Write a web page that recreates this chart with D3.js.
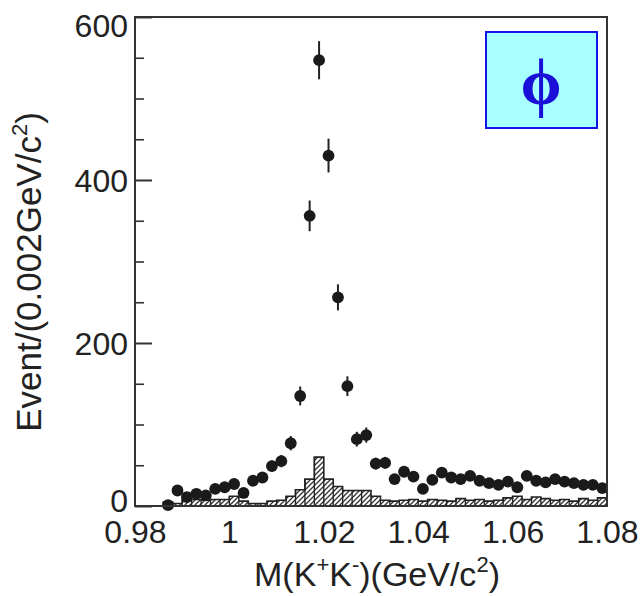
<!DOCTYPE html>
<html>
<head>
<meta charset="utf-8">
<script src="https://cdn.jsdelivr.net/npm/d3@7/dist/d3.min.js"></script>
<style>
  html, body { margin: 0; padding: 0; background: #fff; }
  svg { display: block; }
</style>
</head>
<body>
<svg id="chart" width="643" height="596"></svg>
<script>
// ---------- data ----------
const binStart = 0.98;
const binWidth = 0.002;
// data point counts per bin (bin centres 0.981, 0.983, ...); null = no point
const dataCounts = [null, null, null, 1, 19, 11, 15, 13, 21, 23,
                    27, 16, 31, 35, 49, 55, 77, 135, 356, 547,
                    430, 256, 147, 82, 87, 52, 53, 33, 42, 36,
                    21, 32, 41, 35, 33, 37, 31, 28, 26, 30,
                    23, 37, 31, 29, 33, 30, 28, 26, 26, 22];
// hatched background histogram counts per bin
const bkgCounts = [0, 0, 0, 5, 3, 8, 8, 7, 8, 8,
                   12, 6, 3, 3, 6, 7, 12, 20, 33, 60,
                   33, 24, 19, 19, 19, 12, 7, 6, 7, 8,
                   6, 8, 7, 6, 9, 7, 8, 6, 7, 10,
                   12, 8, 11, 9, 7, 8, 6, 9, 7, 10];
const xTicks = [0.98, 1.00, 1.02, 1.04, 1.06, 1.08];
const yMajorTicks = [0, 200, 400, 600];
const yMinorTicks = [50, 100, 150, 250, 300, 350, 450, 500, 550];
const xTitle = ["M(K", "+", "K", "-", ")(GeV/c", "2", ")"];
const yTitle = ["Event/(0.002GeV/c", "2", ")"];
const legendLabel = "\u03D5";

// ---------- layout ----------
const svg = d3.select("#chart");
const L = 135, R = 607, T = 17, B = 506;
const x = d3.scaleLinear().domain([0.98, 1.08]).range([L, R]);
const y = d3.scaleLinear().domain([0, 600]).range([B, T]);
const ink = "#222";
const font = "'Liberation Sans', Arial, Helvetica, sans-serif";

// hatch pattern
const defs = svg.append("defs");
const pat = defs.append("pattern")
  .attr("id", "hatch").attr("patternUnits", "userSpaceOnUse")
  .attr("width", 5).attr("height", 5);
pat.append("rect").attr("width", 5).attr("height", 5).attr("fill", "#fff");
pat.append("path").attr("d", "M0,5 L5,0 M-1,1 L1,-1 M4,6 L6,4")
  .attr("stroke", "#333").attr("stroke-width", 1.3);
defs.append("clipPath").attr("id", "plotclip")
  .append("rect").attr("x", L).attr("y", T - 2).attr("width", R - L).attr("height", B - T + 12);

// ---------- background histogram ----------
const bins = bkgCounts.map((v, i) => ({ x0: binStart + i * binWidth, x1: binStart + (i + 1) * binWidth, v }));
const stepPts = [];
bins.forEach(b => { stepPts.push([b.x0, b.v]); stepPts.push([b.x1, b.v]); });
const area = d3.area().x(d => x(d[0])).y0(y(0)).y1(d => y(d[1]));
const line = d3.line().x(d => x(d[0])).y(d => y(d[1]));
const hg = svg.append("g").attr("clip-path", "url(#plotclip)");
hg.append("path").datum(stepPts).attr("d", area).attr("fill", "url(#hatch)");
hg.append("path").datum(stepPts).attr("d", line).attr("fill", "none")
  .attr("stroke", ink).attr("stroke-width", 1.6);
hg.selectAll("line.sep").data(bins.filter(b => b.v > 0)).enter().append("line")
  .attr("x1", d => x(d.x0)).attr("x2", d => x(d.x0))
  .attr("y1", y(0)).attr("y2", d => y(d.v))
  .attr("stroke", ink).attr("stroke-width", 1.3);

// ---------- data points ----------
const pts = dataCounts.map((v, i) => ({ c: binStart + (i + 0.5) * binWidth, v }))
  .filter(d => d.v !== null);
const pg = svg.append("g");
pg.selectAll("line.err").data(pts).enter().append("line")
  .attr("x1", d => x(d.c)).attr("x2", d => x(d.c))
  .attr("y1", d => y(d.v + Math.sqrt(d.v))).attr("y2", d => y(Math.max(0, d.v - Math.sqrt(d.v))))
  .attr("stroke", ink).attr("stroke-width", 2);
pg.selectAll("circle").data(pts).enter().append("circle")
  .attr("cx", d => x(d.c)).attr("cy", d => y(d.v)).attr("r", 5.9)
  .attr("fill", "#1a1a1a");

// ---------- frame & axes ----------
svg.append("rect").attr("x", L).attr("y", T).attr("width", R - L).attr("height", B - T)
  .attr("fill", "none").attr("stroke", "#333").attr("stroke-width", 2);

const yMajor = d3.axisLeft(y).tickValues(yMajorTicks).tickSizeInner(-17).tickSizeOuter(0)
  .tickPadding(7).tickFormat(d3.format("d"));
const gy = svg.append("g").attr("transform", `translate(${L},0)`).call(yMajor);
gy.select(".domain").remove();
gy.selectAll("line").attr("stroke", "#333").attr("stroke-width", 2);
// keep end labels inside the frame's vertical extent (as in the original)
gy.selectAll("text").attr("font-family", font).attr("font-size", 32).attr("fill", ink)
  .attr("dy", "0.35em")
  .attr("y", d => Math.min(Math.max(y(d), T + 8), B - 6) - y(d));

const yMinor = d3.axisLeft(y).tickValues(yMinorTicks).tickSizeInner(-9).tickSizeOuter(0).tickFormat("");
const gy2 = svg.append("g").attr("transform", `translate(${L},0)`).call(yMinor);
gy2.select(".domain").remove();
gy2.selectAll("line").attr("stroke", "#333").attr("stroke-width", 1.6);

const xAxis = d3.axisBottom(x).tickValues(xTicks).tickSize(0).tickPadding(14)
  .tickFormat(d => String(+d.toFixed(2)));
const gx = svg.append("g").attr("transform", `translate(0,${B})`).call(xAxis);
gx.select(".domain").remove();
gx.selectAll("text").attr("font-family", font).attr("font-size", 32).attr("fill", ink);

// ---------- axis titles ----------
function richText(sel, parts, big, small, rise) {
  parts.forEach((p, i) => {
    const sup = i % 2 === 1;
    sel.append("tspan").text(p)
      .attr("font-size", sup ? small : big)
      .attr("dy", sup ? -rise : (i > 0 ? rise : 0));
  });
}
const xt = svg.append("text").attr("x", 377).attr("y", 586)
  .attr("text-anchor", "middle").attr("font-family", font).attr("fill", ink);
richText(xt, xTitle, 34, 22, 14);
const yt = svg.append("text").attr("transform", `translate(41,272) rotate(-90)`)
  .attr("text-anchor", "middle").attr("font-family", font).attr("fill", ink);
richText(yt, yTitle, 35, 22, 14);

// ---------- legend box ----------
const lg = svg.append("g");
lg.append("rect").attr("x", 486).attr("y", 32).attr("width", 111).attr("height", 96)
  .attr("fill", "#a8ffff").attr("stroke", "#1414e6").attr("stroke-width", 2);
lg.append("text").attr("x", 541).attr("y", 104).attr("text-anchor", "middle")
  .attr("font-family", "'Liberation Serif', 'DejaVu Serif', serif").attr("font-size", 66)
  .attr("font-weight", "bold")
  .attr("fill", "#1a10d8").text(legendLabel);
</script>
</body>
</html>
